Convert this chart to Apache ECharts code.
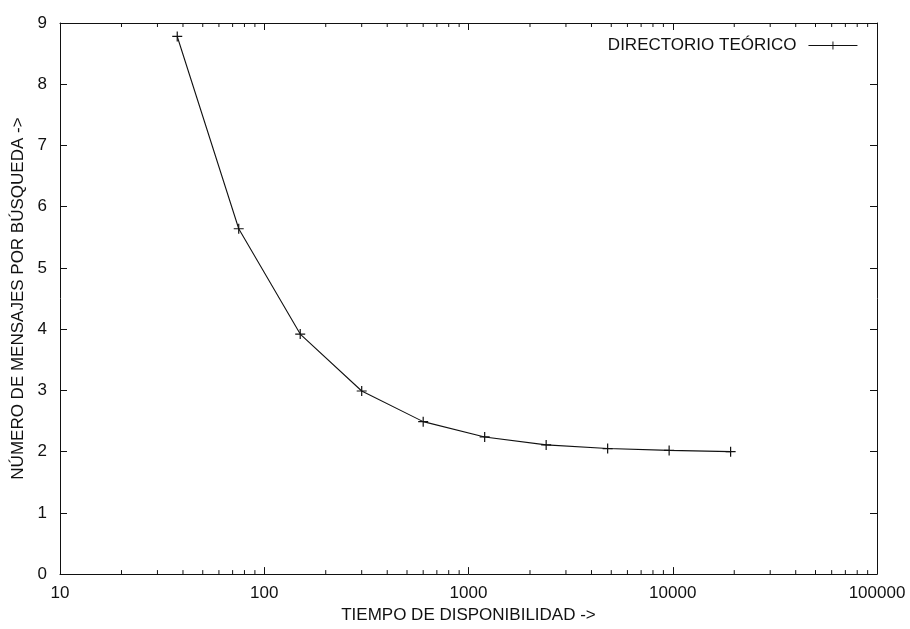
<!DOCTYPE html>
<html>
<head>
<meta charset="utf-8">
<script src="https://cdn.jsdelivr.net/npm/echarts@6/dist/echarts.min.js"></script>
<style>
  html, body { margin: 0; padding: 0; background: #fff; }
  #chart { width: 910px; height: 629px; }
</style>
</head>
<body>
<div id="chart"></div>
<script>
// Tiempo de disponibilidad (eje logarítmico) y mensajes por búsqueda
const tiempos = [37.5, 75, 150, 300, 600, 1200, 2400, 4800, 9600, 19200];
const mensajes = [8.78, 5.64, 3.92, 2.99, 2.49, 2.24, 2.11, 2.05, 2.02, 2.00];
const serieNombre = 'DIRECTORIO TEÓRICO';

// Rango de los ejes
const xTicks = [10, 100, 1000, 10000, 100000];
const yTicks = [0, 1, 2, 3, 4, 5, 6, 7, 8, 9];

const X_MIN = xTicks[0], X_MAX = xTicks[xTicks.length - 1];
const Y_MIN = yTicks[0], Y_MAX = yTicks[yTicks.length - 1];

// Marcas menores del eje logarítmico (2..9 en cada década)
const minorX = [];
for (let d = X_MIN; d < X_MAX; d *= 10) {
  for (let k = 2; k <= 9; k++) minorX.push([d * k, Y_MIN]);
}

const FONT = '"Liberation Sans", Arial, sans-serif';
const INK = '#111';
const PLUS = 'path://M4.4,0h1.2v4.4h4.4v1.2h-4.4v4.4h-1.2v-4.4h-4.4v-1.2h4.4z';

const chart = echarts.init(document.getElementById('chart'), null, { renderer: 'canvas' });

const axisCommon = {
  axisLine: { show: true, onZero: false, lineStyle: { color: INK, width: 1 } },
  axisTick: { show: true, inside: true, length: 7, lineStyle: { color: INK, width: 1 } },
  splitLine: { show: false },
  minorTick: { show: false },
};

chart.setOption({
  animation: false,
  backgroundColor: '#fff',
  textStyle: { fontFamily: FONT, color: INK },
  grid: { left: 60, right: 33, top: 23, bottom: 52, containLabel: false },
  legend: {
    data: [serieNombre],
    right: 47,
    top: 32,
    align: 'right',
    itemWidth: 49,
    itemHeight: 10,
    textStyle: { fontFamily: FONT, fontSize: 17, color: INK, padding: [0, 7, 0, 0] },
    lineStyle: { width: 1.1, color: INK },
    selectedMode: false,
  },
  xAxis: [
    Object.assign({}, axisCommon, {
      type: 'log',
      logBase: 10,
      min: X_MIN,
      max: X_MAX,
      position: 'bottom',
      name: 'TIEMPO DE DISPONIBILIDAD ->',
      nameLocation: 'middle',
      nameGap: 32,
      nameTextStyle: { fontFamily: FONT, fontSize: 17, color: INK },
      axisLabel: {
        fontFamily: FONT, fontSize: 17, color: INK, margin: 11,
        formatter: function (v) { return String(Math.round(v)); },
      },
    }),
    Object.assign({}, axisCommon, {
      type: 'log',
      logBase: 10,
      min: X_MIN,
      max: X_MAX,
      position: 'top',
      axisLabel: { show: false },
    }),
  ],
  yAxis: [
    Object.assign({}, axisCommon, {
      type: 'value',
      min: Y_MIN,
      max: Y_MAX,
      interval: 1,
      position: 'left',
      name: 'NÚMERO DE MENSAJES POR BÚSQUEDA ->',
      nameLocation: 'middle',
      nameRotate: 90,
      nameGap: 32,
      nameTextStyle: { fontFamily: FONT, fontSize: 17, color: INK },
      axisLabel: { fontFamily: FONT, fontSize: 17, color: INK, margin: 13 },
    }),
    Object.assign({}, axisCommon, {
      type: 'value',
      min: Y_MIN,
      max: Y_MAX,
      interval: 1,
      position: 'right',
      axisLabel: { show: false },
    }),
  ],
  series: [
    {
      name: serieNombre,
      type: 'line',
      xAxisIndex: 0,
      yAxisIndex: 0,
      data: tiempos.map((t, i) => [t, mensajes[i]]),
      symbol: PLUS,
      symbolSize: 10,
      showAllSymbol: true,
      lineStyle: { color: INK, width: 1.1 },
      itemStyle: { color: INK },
      emphasis: { disabled: true },
      z: 3,
    },
    {
      name: 'marcas menores',
      type: 'custom',
      xAxisIndex: 0,
      yAxisIndex: 0,
      data: minorX,
      encode: { x: 0, y: 1 },
      clip: false,
      silent: true,
      renderItem: function (params, api) {
        const v = api.value(0);
        const b = api.coord([v, Y_MIN]);
        const t = api.coord([v, Y_MAX]);
        const st = { stroke: INK, lineWidth: 1 };
        return {
          type: 'group',
          children: [
            { type: 'line', shape: { x1: b[0], y1: b[1], x2: b[0], y2: b[1] - 4 }, style: st },
            { type: 'line', shape: { x1: t[0], y1: t[1], x2: t[0], y2: t[1] + 4 }, style: st },
          ],
        };
      },
      z: 2,
    },
  ],
});
</script>
</body>
</html>
